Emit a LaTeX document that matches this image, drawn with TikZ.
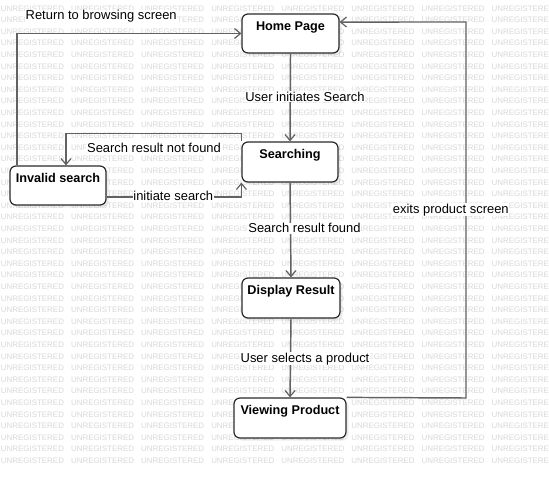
\documentclass[tikz,border=0pt]{standalone}
\usepackage{fontspec}
\setmainfont{Liberation Sans}
\usetikzlibrary{arrows.meta,shadows}
\definecolor{wmgray}{HTML}{D8D8D8}
\definecolor{linegray}{HTML}{626262}
\definecolor{boxline}{HTML}{2A2A2A}
\begin{document}
\begin{tikzpicture}[x=0.75pt,y=-0.75pt,
  wm/.style={anchor=west, inner sep=0pt, text=wmgray, font=\fontsize{5.95pt}{6pt}\selectfont},
  statebox/.style={draw=boxline, line width=0.9pt, rounded corners=4.5pt, fill=white, minimum height=30pt, inner sep=0pt,
    drop shadow={shadow xshift=2pt, shadow yshift=-2pt, fill=black, opacity=0.07}},
  title/.style={anchor=base, inner sep=0pt, font=\fontsize{9.5pt}{11pt}\selectfont\bfseries},
  conn/.style={draw=linegray, line width=1.1pt, -{Straight Barb[length=4.5pt,width=7.5pt,line width=0.9pt]}},
  lbl/.style={anchor=base, fill=white, inner sep=0.6pt, font=\fontsize{9.7pt}{11pt}\selectfont}]
\useasboundingbox (0,0) rectangle (549,478);
\fill[white] (0,0) rectangle (549,478);
% watermark
\begin{scope}
\clip (0,0) rectangle (549,478);
\foreach \r in {0,...,39}{
  \foreach \c in {0,...,7}{
    \node[wm] (wm-\r-\c) at ({70.1*\c+0.7},{8.3+11.6*\r}) {UNREGISTERED};
  }
}
\end{scope}
% states
\node[statebox, minimum width=72.75pt, minimum height=29.25pt] (home) at (290.5,33.5) {};
\node[statebox, minimum width=72pt] (search) at (290,162) {};
\node[statebox, minimum width=73.5pt] (display) at (291,298) {};
\node[statebox, minimum width=84pt] (view) at (290,418) {};
\node[statebox, minimum width=72pt, minimum height=29.25pt] (inv) at (58,185.5) {};
\node[title] (homeT) at ([yshift=-12.75pt]home.north) {Home Page};
\node[title] (searchT) at ([yshift=-12.75pt]search.north) {Searching};
\node[title] (displayT) at ([yshift=-12.75pt]display.north) {Display Result};
\node[title] (viewT) at ([yshift=-12.75pt]view.north) {Viewing Product};
\node[title] (invT) at ([yshift=-12.75pt]inv.north) {Invalid search};
% connectors
\draw[conn] (home.south) -- (search.north);
\draw[conn] (search.south) -- (display.north);
\draw[conn] (display.south) -- (view.north);
\draw[conn] (view.north east) -- (466,398) -- (466,22) -- ([yshift=8.6pt]home.east);
\draw[conn] ([xshift=-30.75pt]inv.north) |- (home.west);
\draw[conn] (search.north west) -- ++(0,-8) -| ([xshift=6pt]inv.north);
\draw[conn] ([yshift=-8.6pt]inv.east) -| (search.south west);
% labels
\node[lbl] (l1) at (305,101) {User initiates Search};
\node[lbl] (l2) at (304.5,232.7) {Search result found};
\node[lbl] (l3) at (305,362) {User selects a product};
\node[lbl] (l4) at (450.8,213) {exits product screen};
\node[lbl] (l5) at (101.2,20) {Return to browsing screen};
\node[lbl] (l6) at (154,152.3) {Search result not found};
\node[lbl] (l7) at (173.3,200.5) {initiate search};
\end{tikzpicture}
\end{document}
